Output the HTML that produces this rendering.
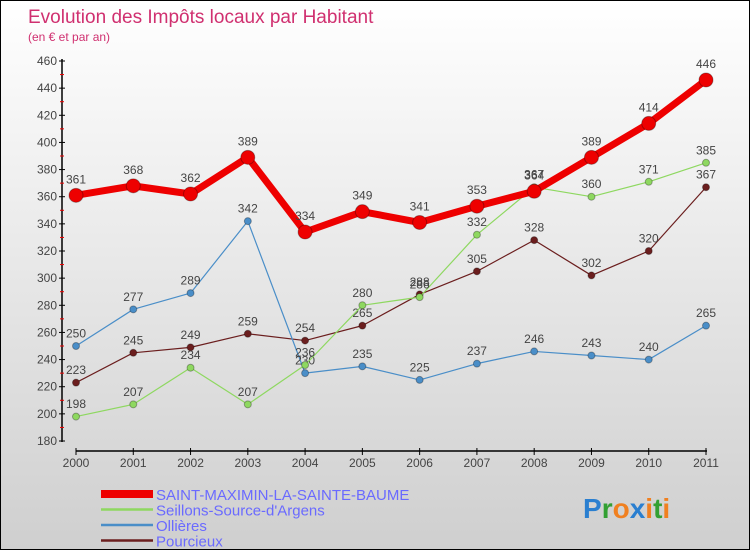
<!DOCTYPE html>
<html><head><meta charset="utf-8"><style>
body{margin:0}
#c{width:748px;height:548px;border:1px solid #000;background:linear-gradient(#fff,#cfcfcf);position:relative;font-family:"Liberation Sans",sans-serif;overflow:hidden}
svg{position:absolute;left:0;top:0}
</style></head><body>
<div id="c">
<svg id="s" width="750" height="550">
<text x="27" y="22" font-size="19" fill="#d03070">Evolution des Impôts locaux par Habitant</text>
<text x="27" y="40" font-size="12" fill="#d03070">(en € et par an)</text>
</svg>
</div>
<script>
const years=[2000,2001,2002,2003,2004,2005,2006,2007,2008,2009,2010,2011];
const smlsb=[361,368,362,389,334,349,341,353,364,389,414,446];
const ollieres=[250,277,289,342,230,235,225,237,246,243,240,265];
const seillons=[198,207,234,207,236,280,286,332,367,360,371,385];
const pourcieux=[223,245,249,259,254,265,288,305,328,302,320,367];
const yTicks=[180,200,220,240,260,280,300,320,340,360,380,400,420,440,460];
const series=[
 {name:'Pourcieux',v:pourcieux,c:'#6b1e1e',w:1.2,r:3.5,id:'pourcieux'},
 {name:'Ollières',v:ollieres,c:'#4a8ec8',w:1.2,r:3.5,id:'ollieres'},
 {name:'Seillons-Source-d\'Argens',v:seillons,c:'#8ed860',w:1.2,r:3.5,id:'seillons'},
 {name:'SAINT-MAXIMIN-LA-SAINTE-BAUME',v:smlsb,c:'#ee0000',w:7,r:7,id:'smlsb'}];
const X=i=>75+i*(705-75)/11;
const Y=v=>440-(v-180)*(380/280);
const s=document.getElementById('s'),NS='http://www.w3.org/2000/svg';
function mk(t,a,p){const e=document.createElementNS(NS,t);for(const k in a)e.setAttribute(k,a[k]);(p||s).appendChild(e);return e;}
let e;
e=mk('line',{x1:61,y1:58,x2:61,y2:441,stroke:'#000','stroke-width':1.5});


e=mk('line',{x1:75,y1:450,x2:706,y2:450,stroke:'#000','stroke-width':1.5});


yTicks.forEach((t,i)=>{const y=Y(t);
 mk('line',{x1:58,y1:y,x2:64,y2:y,stroke:'#000'});
 if(i<yTicks.length-1)mk('line',{x1:59,y1:Y(t+10),x2:63,y2:Y(t+10),stroke:'#e00'});
 e=mk('text',{x:56,y:y+4,'text-anchor':'end','font-size':12,fill:'#444'});e.textContent=t;
 
 });
years.forEach((yr,i)=>{mk('line',{x1:X(i),y1:447,x2:X(i),y2:454,stroke:'#000'});
 e=mk('text',{x:X(i),y:466,'text-anchor':'middle','font-size':12,fill:'#444'});e.textContent=yr;
 
 });
series.forEach(se=>{
 e=mk('polyline',{points:se.v.map((v,i)=>X(i)+','+Y(v)).join(' '),fill:'none',stroke:se.c,'stroke-width':se.w,'stroke-linejoin':'round'});
 
 
 se.v.forEach((v,i)=>{
  e=mk('circle',{cx:X(i),cy:Y(v),r:se.r,fill:se.c,stroke:'rgba(0,0,0,0.3)'});
  
  
  e=mk('text',{x:X(i),y:Y(v)-(se.r+5),'text-anchor':'middle','font-size':12,fill:'#444'});e.textContent=v;
  
  });
});
const leg=[...series].reverse();
leg.forEach((se,i)=>{const y=493+i*15.5;
 mk('line',{x1:100,y1:y,x2:152,y2:y,stroke:se.c,'stroke-width':i==0?8:2.5});
 e=mk('text',{x:155,y:y+6,'font-size':15,fill:'#6a6aff'});e.textContent=se.name;
 
 });
e=mk('text',{x:582,y:517,'font-size':28,'font-weight':'bold'});


[['P','#2a7fd0'],['r','#33a033'],['o','#f08020'],['x','#2a7fd0'],['i','#f08020'],['t','#33a033'],['i','#f08020']].forEach(([c,col])=>{const t=mk('tspan',{fill:col},e);t.textContent=c;});
</script>
</body></html>
